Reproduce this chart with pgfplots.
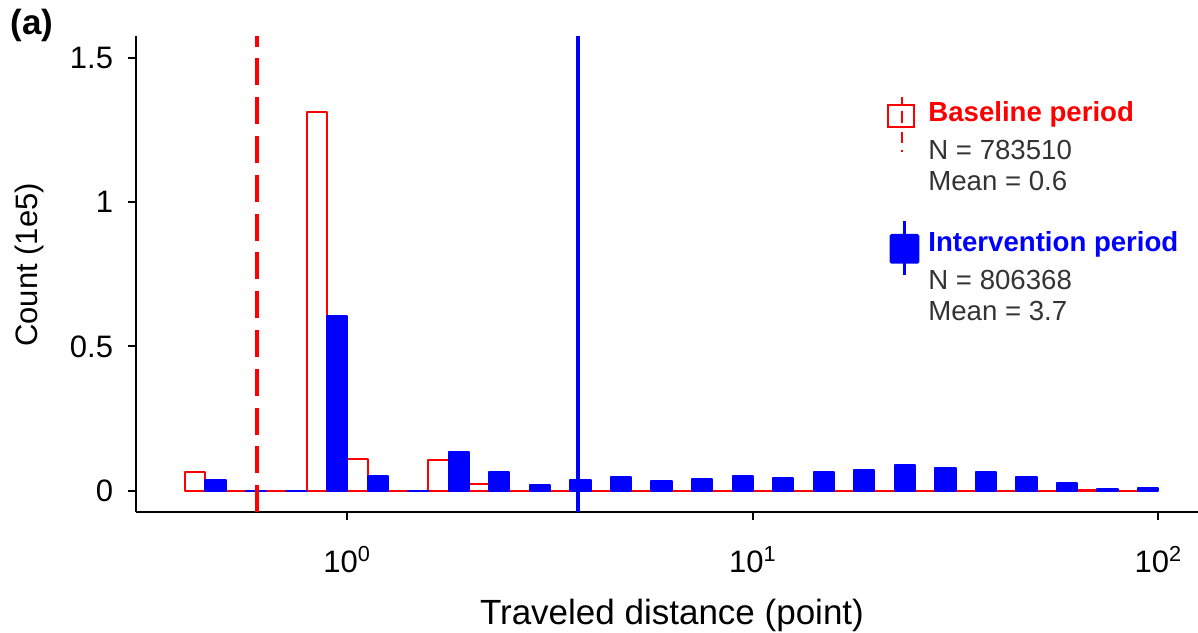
\documentclass[border=0pt]{standalone}
\usepackage{fontspec}
\setmainfont{Liberation Sans}
\usepackage{pgfplots}
\usepackage{pgfplotstable}
\pgfplotsset{compat=1.18}
\definecolor{cRed}{HTML}{FF0000}
\definecolor{cBlue}{HTML}{0000FF}
\definecolor{cGray}{HTML}{333333}

% bin centre in log10(distance); counts in units of 1e5
\pgfplotstableread{
c      base    inter
-0.35  0.064   0.036
-0.25  0       0
-0.15  0       0
-0.05  1.311   0.604
0.05   0.110   0.050
0.15   0       0
0.25   0.106   0.135
0.35   0.022   0.064
0.45   0       0.020
0.55   0       0.037
0.65   0       0.046
0.75   0       0.035
0.85   0       0.042
0.95   0       0.051
1.05   0       0.044
1.15   0       0.064
1.25   0       0.073
1.35   0       0.090
1.45   0       0.077
1.55   0       0.063
1.65   0       0.046
1.75   0       0.025
1.85   0.004   0.006
1.95   0       0.008
}\bins

\begin{document}
\begin{tikzpicture}
\useasboundingbox (0,0) rectangle (599bp,316.5bp);
\begin{axis}[
  at={(68.2bp,60.35bp)}, anchor=south west,
  scale only axis, width=530.8bp, height=238bp,
  xmin=-0.52, xmax=2.0979, ymin=-0.075, ymax=1.575,
  axis lines=left, axis line style={-, line width=1bp, black},
  tick align=outside, major tick length=4bp,
  tick style={line width=1bp, black},
  xtick={0,1,2},
  xticklabels={10\textsuperscript{0},10\textsuperscript{1},10\textsuperscript{2}},
  ytick={0,0.5,1,1.5},
  /pgf/number format/assume math mode=true,
  ticklabel style={font=\fontsize{15.5bp}{18bp}\selectfont, inner sep=0pt, text=black},
  yticklabel style={anchor=east, xshift=-7.5bp},
  xticklabel style={anchor=north, yshift=-13bp},
  xlabel={Traveled distance (point)},
  ylabel={Count (1e5)},
  label style={inner sep=0pt},
  xlabel style={font=\fontsize{17.5bp}{20bp}\selectfont, at={(axis description cs:0.5045,-0.2347)}, anchor=base},
  ylabel style={font=\fontsize{15.5bp}{18bp}\selectfont, at={(axis description cs:-0.0927,0.52)}, anchor=base, rotate=0},
]
\addplot[ybar, bar width=0.05, bar shift=0pt, draw=cRed, fill=white,
  line width=1bp, line join=round] table[x expr=\thisrow{c}-0.025, y=base] {\bins};
\addplot[ybar, bar width=0.05, bar shift=0pt, draw=cBlue, fill=cBlue,
  line width=1bp, line join=round] table[x expr=\thisrow{c}+0.025, y=inter] {\bins};
\addplot[cRed, line width=2bp, dash pattern=on 13.5bp off 5.9bp]
  coordinates {(-0.22185,-0.075) (-0.22185,1.575)};
\addplot[cBlue, line width=2bp]
  coordinates {(0.5682,-0.075) (0.5682,1.575)};
\end{axis}

% panel tag
\node[anchor=base west, inner sep=0pt, font=\fontsize{17.5bp}{20bp}\selectfont\bfseries]
  at (5bp,299bp) {(a)};

% legend keys
\draw[cRed, line width=1bp] (444.15bp,252.85bp) rectangle (456.85bp,264bp);
\draw[cRed, line width=1.4bp, dash pattern=on 4bp off 3bp on 6bp off 4.5bp on 5.5bp off 3.5bp on 1bp off 10bp] (451bp,268bp) -- (451bp,240bp);
\draw[cBlue, line width=1bp, fill=cBlue, rounded corners=0.5bp] (445.35bp,185.15bp) rectangle (459.15bp,199bp);
\draw[cBlue, line width=1.4bp] (452.25bp,206bp) -- (452.25bp,179bp);

% legend texts
\begin{scope}[every node/.style={anchor=base west, inner sep=0pt, font=\fontsize{13.8bp}{16bp}\selectfont}]
\node[text=cRed, font=\fontsize{13.8bp}{16bp}\selectfont\bfseries] at (464bp,255.65bp) {Baseline period};
\node[text=cGray] at (464bp,236.5bp) {N = 783510};
\node[text=cGray] at (464bp,221bp) {Mean = 0.6};
\node[text=cBlue, font=\fontsize{13.8bp}{16bp}\selectfont\bfseries] at (464bp,190.65bp) {Intervention period};
\node[text=cGray] at (464bp,171.5bp) {N = 806368};
\node[text=cGray] at (464bp,156bp) {Mean = 3.7};
\end{scope}
\end{tikzpicture}
\end{document}
